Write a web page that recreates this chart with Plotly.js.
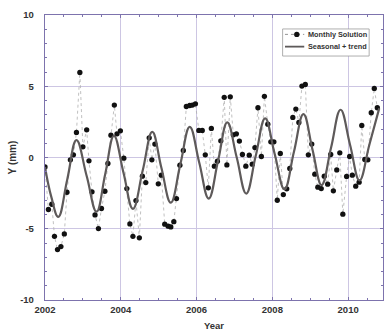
<!DOCTYPE html>
<html>
<head>
<meta charset="utf-8">
<script src="https://cdn.plot.ly/plotly-3.0.1.min.js"></script>
<style>html,body{margin:0;padding:0;background:#fff;}#chart{width:386px;height:331px;}</style>
</head>
<body>
<div id="chart"></div>
<script>
// Monthly solution (decimal year, value in mm)
var monthYears = [2002.00,2002.09,2002.18,2002.25,2002.33,2002.42,2002.51,2002.58,2002.67,2002.75,2002.83,2002.92,
  2003.00,2003.10,2003.16,2003.24,2003.32,2003.41,2003.49,2003.58,2003.66,2003.74,2003.83,2003.90,
  2003.99,2004.08,2004.16,2004.24,2004.32,2004.40,2004.49,2004.57,2004.66,2004.75,2004.82,2004.90,
  2004.99,2005.07,2005.16,2005.25,2005.32,2005.40,2005.47,2005.56,2005.65,2005.73,2005.82,2005.89,
  2005.97,2006.06,2006.15,2006.23,2006.31,2006.39,2006.47,2006.55,2006.64,2006.73,2006.80,2006.89,
  2006.97,2007.05,2007.13,2007.21,2007.30,2007.39,2007.47,2007.54,2007.62,2007.71,2007.79,2007.88,
  2007.96,2008.04,2008.13,2008.21,2008.29,2008.38,2008.46,2008.54,2008.62,2008.70,2008.78,2008.87,
  2008.95,2009.04,2009.12,2009.20,2009.29,2009.37,2009.46,2009.54,2009.61,2009.70,2009.78,2009.86,
  2009.96,2010.04,2010.11,2010.20,2010.29,2010.36,2010.44,2010.52,2010.61,2010.69,2010.77];
var monthValues = [-0.66,-3.65,-3.28,-5.53,-6.46,-6.25,-5.36,-2.44,-0.16,0.19,1.76,5.97,
  0.75,1.94,-0.23,-2.41,-4.03,-4.99,-3.58,-2.37,-0.42,1.57,3.68,1.66,
  1.87,-0.05,-2.18,-4.66,-5.53,-3.02,-5.64,-1.31,-1.76,1.38,-0.16,0.94,
  -1.85,-1.24,-4.68,-4.82,-4.87,-4.50,-2.88,-0.54,0.49,3.58,3.65,3.68,
  3.77,1.90,1.90,0.19,-2.13,2.04,-0.61,-0.26,1.17,4.22,-0.52,4.26,
  1.59,1.66,1.15,0.21,-0.61,0.16,-0.47,0.70,3.49,0.07,4.29,2.34,
  1.10,1.10,-3.00,0.28,-2.60,-2.20,-0.77,2.81,3.40,2.46,5.01,5.13,
  0.19,0.94,-1.17,-2.08,-2.18,-1.31,-1.87,0.21,-2.34,-0.87,0.33,-3.98,
  -1.33,0.07,-1.24,-2.01,-1.73,2.25,-0.14,-0.16,3.14,4.85,3.49];

// Seasonal + trend curve (read at extremes and mid points)
var fitYears = [2002.00,2002.17,2002.35,2002.59,2002.83,2003.10,2003.36,2003.59,2003.82,2004.07,2004.32,2004.58,
  2004.83,2005.07,2005.32,2005.57,2005.82,2006.07,2006.32,2006.57,2006.81,2007.06,2007.31,2007.56,
  2007.81,2008.06,2008.32,2008.57,2008.82,2009.06,2009.30,2009.55,2009.80,2010.05,2010.30,2010.56,2010.82];
var fitValues = [-0.66,-2.80,-4.17,-1.50,1.22,-1.30,-3.80,-1.15,1.52,-1.05,-3.60,-0.90,
  1.80,-0.70,-3.17,-0.50,2.15,-0.35,-2.88,-0.20,2.46,0.00,-2.53,0.10,
  2.74,0.26,-2.22,0.40,3.04,0.55,-1.94,0.70,3.35,0.90,-1.60,0.90,3.45];

var xTicks = [2002,2004,2006,2008,2010];
var yTicks = [-10,-5,0,5,10];
var seriesNames = ['Monthly Solution','Seasonal + trend'];
var yTitle = 'Y (mm)';

var frame = '#7d73ad';
var grid = '#cdc6e3';
var txt = '#333333';
var fnt = 'Liberation Sans, Arial, sans-serif';
var dotColor = '#b0b0b0';
var fitColor = '#5e5a5a';

var traces = [
  {x: monthYears, y: monthValues, name: seriesNames[0], type: 'scatter', mode: 'lines+markers',
   line: {color: dotColor, width: 0.8, dash: 'dot'},
   marker: {color: '#111111', size: 5.3}},
  {x: fitYears, y: fitValues, name: seriesNames[1], type: 'scatter', mode: 'lines',
   line: {color: fitColor, width: 2.2, shape: 'spline', smoothing: 1.2}}
];

var axisCommon = {
  showline: true, linecolor: frame, linewidth: 1.2, mirror: 'ticks',
  showgrid: true, gridcolor: grid, gridwidth: 1,
  zeroline: false,
  ticks: 'inside', ticklen: 3, tickcolor: frame,
  tickfont: {family: fnt, size: 9.5, color: txt, weight: 'bold'},
  automargin: false
};

// Legend drawn as a small boxed key inside the plot (paper coordinates)
var lg = {x0: 0.703, x1: 0.959, y0: 0.856, y1: 0.951, rows: [0.932, 0.889],
          sx0: 0.710, sx1: 0.767, mx: 0.745, tx: 0.772};
var shapes = [
  {type: 'rect', xref: 'paper', yref: 'paper', x0: lg.x0, x1: lg.x1, y0: lg.y0, y1: lg.y1,
   line: {color: '#9a9a9a', width: 0.8}, fillcolor: '#ffffff', layer: 'above'},
  {type: 'line', xref: 'paper', yref: 'paper', x0: lg.sx0, x1: lg.sx1, y0: lg.rows[0], y1: lg.rows[0],
   line: {color: '#888888', width: 0.9, dash: 'dot'}, layer: 'above'},
  {type: 'circle', xref: 'paper', yref: 'paper', x0: lg.mx - 0.008, x1: lg.mx + 0.008,
   y0: lg.rows[0] - 0.0095, y1: lg.rows[0] + 0.0095, fillcolor: '#111111', line: {width: 0}, layer: 'above'},
  {type: 'line', xref: 'paper', yref: 'paper', x0: lg.sx0, x1: lg.sx1, y0: lg.rows[1], y1: lg.rows[1],
   line: {color: fitColor, width: 1.8}, layer: 'above'}
];
var annotations = seriesNames.map(function (n, i) {
  return {text: n, xref: 'paper', yref: 'paper', x: lg.tx, y: lg.rows[i], xanchor: 'left', yanchor: 'middle',
          showarrow: false, font: {family: fnt, size: 7.3, color: txt, weight: 'bold'}};
});
annotations.push({text: yTitle, xref: 'paper', yref: 'paper', x: -0.095, y: 0.5, xanchor: 'center', yanchor: 'middle',
  textangle: -90, showarrow: false, font: {family: fnt, size: 10, color: txt, weight: 'bold'}});

var layout = {
  width: 386, height: 331,
  margin: {l: 45, r: 3, t: 15, b: 31},
  paper_bgcolor: '#ffffff', plot_bgcolor: '#ffffff',
  showlegend: false,
  shapes: shapes,
  annotations: annotations,
  xaxis: Object.assign({}, axisCommon, {
    range: [2002, 2010.92], tickmode: 'array', tickvals: xTicks, ticktext: xTicks.map(String),
    minor: {ticks: 'inside', ticklen: 2, tickcolor: frame, showgrid: false, dtick: 0.5},
    title: {text: 'Year', font: {family: fnt, size: 9.5, color: txt, weight: 'bold'}, standoff: 8}
  }),
  yaxis: Object.assign({}, axisCommon, {
    range: [-10, 10], tickmode: 'array', tickvals: yTicks, ticktext: yTicks.map(String),
    ticklabelstandoff: 8,
    minor: {ticks: 'inside', ticklen: 2, tickcolor: frame, showgrid: false, dtick: 1}
  })
};

Plotly.newPlot('chart', traces, layout, {staticPlot: true, displayModeBar: false});
</script>
</body>
</html>
